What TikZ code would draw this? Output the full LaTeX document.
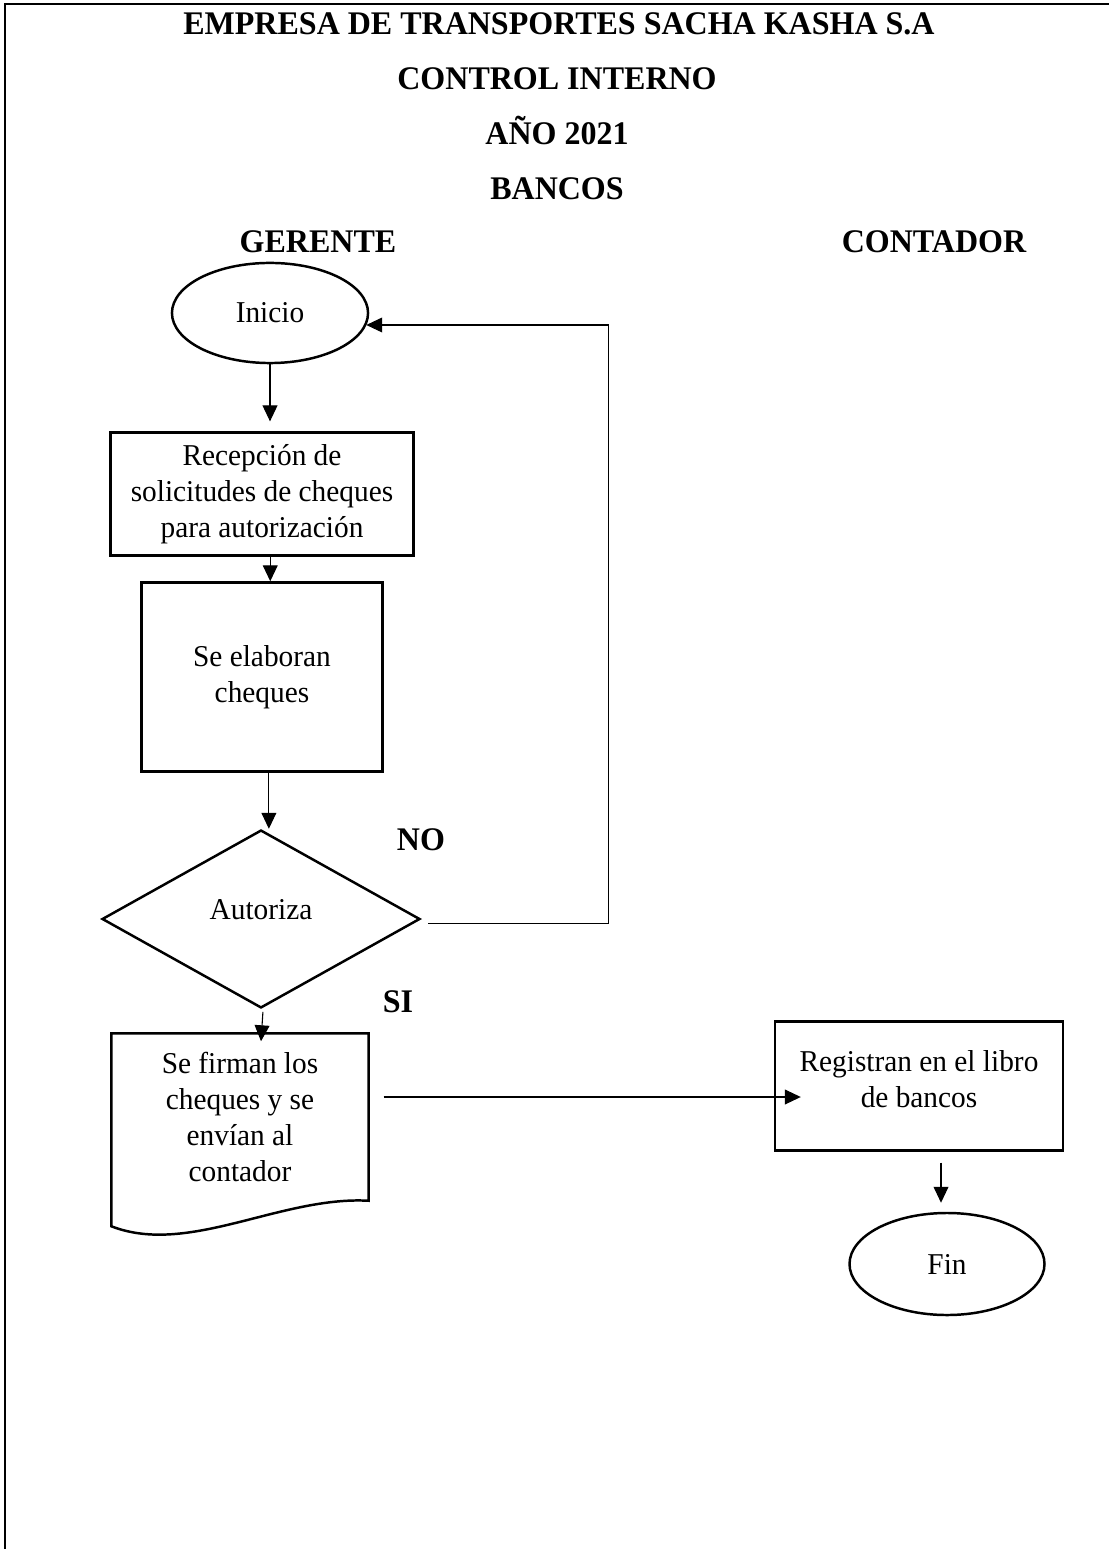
\documentclass[tikz,border=0pt]{standalone}
\usepackage{fontspec}
\setmainfont{Liberation Serif}[FakeStretch=0.97]
\usetikzlibrary{shapes.geometric,arrows.meta,calc}

\begin{document}
\begin{tikzpicture}[x=0.3636pt, y=-0.3636pt,
    every node/.style={font=\fontsize{11}{13.1}\selectfont, inner sep=0pt},
    titulo/.style={font=\fontsize{12}{13.1}\selectfont\bfseries, anchor=base},
    caja/.style={draw, line width=0.9pt, rectangle, align=center},
    ovalo/.style={draw, line width=0.9pt, ellipse},
    rombo/.style={draw, line width=0.9pt, diamond},
    flecha/.style={-{Triangle[length=5.8pt,width=5.4pt]}, line width=0.4pt}]

    % Page size and frame (only top and left edges show)
    \useasboundingbox (0,0) rectangle (1109,1549);
    \draw[line width=0.9pt] (5,1549) -- (5,4) -- (1109,4);

    % Header
    \node[titulo] (empresa) at (559, 35) {EMPRESA DE TRANSPORTES SACHA KASHA S.A};
    \node[titulo] (control) at (557, 90) {CONTROL INTERNO};
    \node[titulo] (anio) at (557, 145) {AÑO 2021};
    \node[titulo] (bancos) at (557, 200) {BANCOS};

    % Lanes
    \node[titulo] (gerente) at (318, 253) {GERENTE};
    \node[titulo] (contador) at (934, 253) {CONTADOR};

    % Gerente column
    \node[ovalo, minimum width=71.3pt, minimum height=36.4pt] (inicio) at (270, 313) {Inicio};
    \node[caja, minimum width=110.2pt, minimum height=44.7pt] (recepcion) at (262, 494)
        {Recepción de\\solicitudes de cheques\\para autorización};
    \node[caja, minimum width=87.6pt, minimum height=68.7pt] (elaboran) at (262, 677)
        {Se elaboran\\cheques};
    \node[rombo, minimum width=115.6pt, minimum height=64.7pt, text depth=6.6pt] (autoriza) at (261, 919) {Autoriza};

    % Document shape: box drawn by hand with a wavy bottom
    \node[caja, draw=none, minimum width=92.7pt, minimum height=60pt] (firman) at (240, 1117)
        {Se firman los\\cheques y se\\envían al\\contador};
    \draw[line width=0.9pt] (firman.north east) -- (firman.north west) -- ++(0,193)
        .. controls +(77,30) and +(-88,-5) .. (firman.south east) -- cycle;

    % Decision labels
    \node[titulo] (no) at (421, 850) {NO};
    \node[titulo] (si) at (398, 1012) {SI};

    % Contador column
    \node[caja, minimum width=104.7pt, minimum height=46.9pt, text depth=5pt] (registran) at (919, 1086)
        {Registran en el libro\\de bancos};
    \node[ovalo, minimum width=70.9pt, minimum height=37.1pt] (fin) at (947, 1264) {Fin};

    % Connectors
    \draw[flecha, shorten >=3.6pt] (inicio.south) -- (inicio.south |- recepcion.north);
    \draw[flecha] ([xshift=3pt]recepcion.south) -- ([xshift=3pt]recepcion.south |- elaboran.north);
    \draw[flecha] ([xshift=2.5pt]elaboran.south) -- ([xshift=2.5pt]elaboran.south |- autoriza.north);
    \draw[flecha] ([xshift=0.7pt,yshift=-1pt]autoriza.south) -- ($(firman.north)+(21,8)$);
    % NO: back to the start
    \draw[flecha] ([xshift=2.5pt,yshift=-1.5pt]autoriza.east) -- ++(180,0) |- ($(inicio.east)+(-3,12)$);
    % SI: cheques go to the accountant
    \draw[flecha] ($(firman.east)+(15,-20)$) -- ($(registran.west)+(27,11)$);
    \draw[flecha] ($(registran.south)+(22,11)$) -- ($(fin.north)+(-6,-9)$);

\end{tikzpicture}
\end{document}
